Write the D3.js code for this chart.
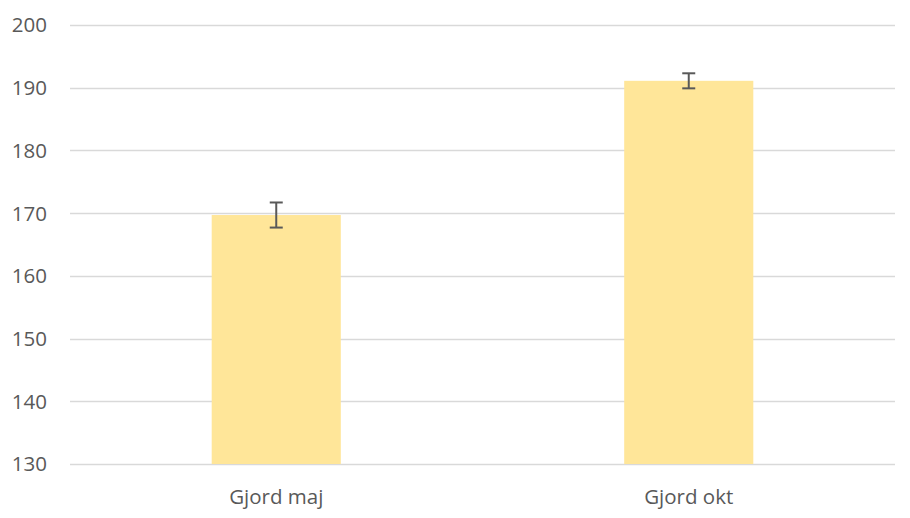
<!DOCTYPE html>
<html>
<head>
<meta charset="utf-8">
<script src="https://cdn.jsdelivr.net/npm/d3@7"></script>
<style>
  html, body { margin: 0; padding: 0; background: #fff; }
  svg { display: block; }
</style>
</head>
<body>
<svg id="chart" width="910" height="518"></svg>
<script>
const categories = ["Gjord maj", "Gjord okt"];
const values = [169.7, 191.1];
const errors = [2.0, 1.2];
const yTicks = [130, 140, 150, 160, 170, 180, 190, 200];

const svg = d3.select("#chart");
const margin = { left: 70, right: 15, top: 25, bottom: 54 };
const W = 910, H = 518;

const x = d3.scaleBand().domain(categories).range([margin.left, W - margin.right]).paddingInner(0.687).paddingOuter(0.3435);
const y = d3.scaleLinear().domain([130, 200]).range([H - margin.bottom, margin.top]);

const font = "'Open Sans', 'Liberation Sans', sans-serif";

// gridlines
svg.append("g").selectAll("line").data(yTicks).join("line")
  .attr("x1", margin.left).attr("x2", W - margin.right)
  .attr("y1", d => Math.round(y(d)) + 0.5).attr("y2", d => Math.round(y(d)) + 0.5)
  .attr("stroke", "#D9D9D9").attr("stroke-width", 1.5);

// y tick labels
svg.append("g").selectAll("text").data(yTicks).join("text")
  .attr("x", 47).attr("y", d => y(d))
  .attr("dy", "0.36em")
  .attr("text-anchor", "end")
  .attr("font-family", font).attr("font-size", 20.5)
  .attr("fill", "#595959")
  .text(d => d);

// bars
svg.append("g").selectAll("rect").data(values).join("rect")
  .attr("x", (d, i) => x(categories[i]))
  .attr("width", x.bandwidth())
  .attr("y", d => y(d))
  .attr("height", d => y(130) - y(d))
  .attr("fill", "#FFE699");

// error bars
const eb = svg.append("g").attr("stroke", "#595959").attr("stroke-width", 2);
values.forEach((v, i) => {
  const cx = x(categories[i]) + x.bandwidth() / 2;
  const y1 = y(v + errors[i]), y2 = y(v - errors[i]);
  eb.append("line").attr("x1", cx).attr("x2", cx).attr("y1", y1).attr("y2", y2);
  eb.append("line").attr("x1", cx - 6.5).attr("x2", cx + 6.5).attr("y1", y1).attr("y2", y1);
  eb.append("line").attr("x1", cx - 6.5).attr("x2", cx + 6.5).attr("y1", y2).attr("y2", y2);
});

// x labels
svg.append("g").selectAll("text").data(categories).join("text")
  .attr("x", d => x(d) + x.bandwidth() / 2)
  .attr("y", 504)
  .attr("text-anchor", "middle")
  .attr("font-family", font).attr("font-size", 20.5)
  .attr("fill", "#595959")
  .text(d => d);
</script>
</body>
</html>
